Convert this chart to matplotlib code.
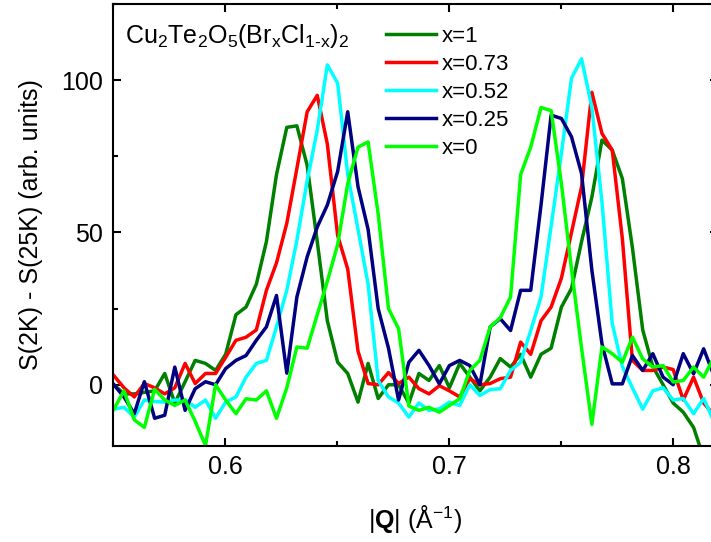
import matplotlib
matplotlib.use("Agg")
import matplotlib.pyplot as plt
from matplotlib.ticker import MultipleLocator

plt.rcParams['font.family'] = ['Liberation Sans', 'DejaVu Sans']
plt.rcParams['mathtext.fontset'] = 'custom'
plt.rcParams['mathtext.rm'] = 'Liberation Sans'
plt.rcParams['mathtext.it'] = 'Liberation Sans:italic'
plt.rcParams['mathtext.bf'] = 'Liberation Sans:bold'

# |Q| grid (1/A)
q = [0.5504, 0.5549, 0.5595, 0.5640, 0.5686, 0.5731, 0.5776, 0.5822, 0.5867, 0.5913,
     0.5958, 0.6003, 0.6049, 0.6094, 0.6140, 0.6185, 0.6230, 0.6276, 0.6321, 0.6367,
     0.6412, 0.6457, 0.6503, 0.6548, 0.6594, 0.6639, 0.6684, 0.6730, 0.6775, 0.6821,
     0.6866, 0.6911, 0.6957, 0.7002, 0.7048, 0.7093, 0.7138, 0.7184, 0.7229, 0.7275,
     0.7320, 0.7365, 0.7411, 0.7456, 0.7502, 0.7547, 0.7592, 0.7638, 0.7683, 0.7729,
     0.7774, 0.7819, 0.7865, 0.7910, 0.7956, 0.8001, 0.8046, 0.8092, 0.8137, 0.8183]

# S(2K) - S(25K) for each composition
s_x100 = [0, -3, -3, -2.5, -2, 3.7, -6, 1, 8, 7,
          4.7, 10, 23, 25.5, 33, 47, 69, 84.5, 85, 72,
          47, 21, 7.4, 3.7, -5.7, 7, -4.5, 0, 0, -6,
          3.7, 1.4, 6.3, -1, 7, 2.5, -2, 2.5, 8.6, 5.8,
          10, 2.5, 10, 12, 25.5, 31.6, 47, 61.6, 80.3, 77,
          67.7, 45, 18, 6, 0, -6, -9, -14, -24, -30]

s_x073 = [3, -1, -4, 0.4, -1, -3, -1, 7, 0.4, 3.7,
          3.7, 9, 14.6, 15.6, 18, 31, 40, 53, 71, 89.6,
          95, 79, 49, 38, 11, 0.4, 0, 4, 0.4, 2.5,
          -1.3, -3, -0.3, -2, -4, 2, 0, 0.4, 2, 2.5,
          14, 10, 21, 25.5, 35, 50, 65, 96, 82.5, 77,
          48, 8, 4.7, 4.7, 5.8, 5, -5, 2.5, -6, -10]

s_x052 = [-8, -7.4, -10.6, -5, -5.5, -5.7, -5, -5, -7.4, -5,
          -11, -5.7, -4, 2.5, 7, 8, 19, 31, 47.4, 67,
          83.6, 105, 99, 69, 51, 33, 1.4, -4, -6, -10.6,
          -6, -8.4, -7.9, -5.7, -6.8, 0, -3.5, -1.6, -1.3, 4.7,
          7.4, 17.8, 28.8, 52, 76, 100.6, 107, 91, 60, 20,
          6, -1, -8, -2, -1, -5, -4.5, -9.5, -4.5, -12]

s_x025 = [0, -4, -9.5, 1, -11, -10, 5.8, -8.4, -1.3, 1,
          0, 5.3, 8, 9.6, 14.6, 19, 29.3, 3.8, 28.8, 42,
          51.8, 59, 70, 89.6, 65, 51, 25, 12, -5, 7.4,
          11.3, 6.3, 0.3, 6.3, 8, 6.3, 0, 19, 21.7, 17.8,
          31, 31, 59, 88.5, 87.4, 81.4, 69.3, 37.6, 13.5, 0.3,
          0.3, 9.6, 4.7, 10.2, 2.5, 0, 10.2, 3.6, 11.8, 3]

s_x000 = [-8, -2, -11.5, -14, -1.5, -5, -6.8, -5, -12, -20,
          0, -5, -9.5, -4.6, -5, -2, -11, -1, 12.4, 12,
          23, 34, 46, 66, 78, 79.7, 56, 25, 18.4, -7,
          -8.4, -7.4, -9, -6.8, -4.6, 4.7, 8, 19, 22, 28.8,
          69, 78, 91, 90, 66, 38, 12, -13, 12.4, 10.2,
          7.4, 15.6, 8.5, 5.8, 6.3, 0.9, 1.4, 5.8, 2.5, 9]

labels = ['x=1', 'x=0.73', 'x=0.52', 'x=0.25', 'x=0']
colors = ['#008000', '#ff0000', '#00ffff', '#000080', '#00ff00']
series = [s_x100, s_x073, s_x052, s_x025, s_x000]

fig = plt.figure(figsize=(7.11, 5.42), dpi=100)
ax = fig.add_axes([0.1589, 0.1777, 0.8506, 0.8150])

for s, c, lab in zip(series, colors, labels):
    ax.plot(q, s, color=c, lw=2.5, label=lab)

ax.set_xlim(0.55, 0.82)
ax.set_ylim(-20, 125)
ax.xaxis.set_minor_locator(MultipleLocator(0.05))
ax.yaxis.set_major_locator(MultipleLocator(50))
ax.yaxis.set_minor_locator(MultipleLocator(25))
ax.set_xticks([0.6, 0.7, 0.8])
ax.set_xticklabels(['0.6', '0.7', '0.8'])

ax.tick_params(which='both', direction='in', top=True, right=True,
               width=1.5, labelsize=18, pad=7)
ax.tick_params(which='major', length=6)
ax.tick_params(which='minor', length=3.5)
for sp in ax.spines.values():
    sp.set_linewidth(1.5)

ax.set_xlabel(r'|$\mathbf{Q}$| (Å$^{-1}$)', fontsize=18)
ax.set_ylabel('S(2K) - S(25K) (arb. units)', fontsize=18)
ax.xaxis.set_label_coords(302 / 604.8, -0.13)
ax.yaxis.set_label_coords(-0.115, 0.5)

fig.text(125 / 711, 1 - 43 / 542,
         r'Cu$_2$Te$_2$O$_5$(Br$_\mathrm{x}$Cl$_{\mathrm{1\text{-}x}}$)$_2$',
         fontsize=18, va='baseline', ha='left')

ax.legend(loc='upper left', bbox_to_anchor=(386 / 711, 1 - 26 / 542),
          bbox_transform=fig.transFigure, frameon=False, fontsize=16,
          handlelength=2.25, handletextpad=0.27, labelspacing=0.31,
          borderpad=0, borderaxespad=0)

fig.savefig('out.png', dpi=100)
